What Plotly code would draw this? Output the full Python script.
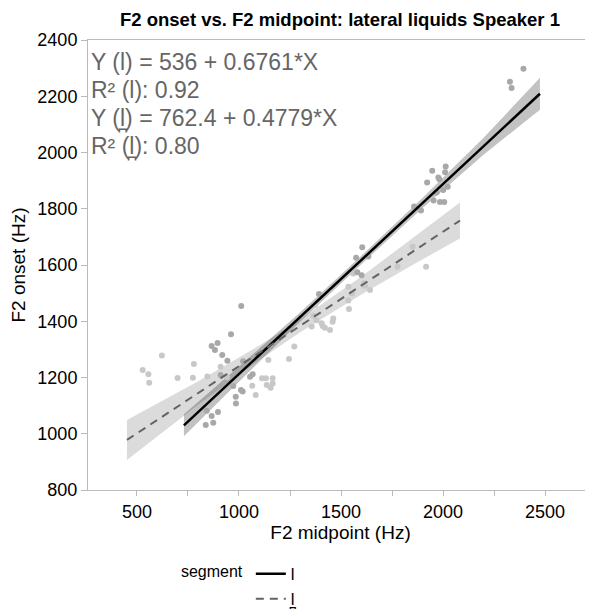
import plotly.graph_objects as go

# F2 midpoint (x) / F2 onset (y) for each segment
l_x = [1011, 961, 866, 895, 882, 918, 943, 910, 926, 972, 1020, 1010, 1018, 984, 985,
       1067, 1054, 842, 866, 897, 837, 874, 1392, 1604, 1574, 1634, 1601, 1580,
       1947, 2013, 2010, 1922, 1982, 1969, 2001, 2023, 1954, 1985, 2006, 1858, 1892,
       1977, 2394, 2328, 2336]
l_y = [1454, 1354, 1312, 1323, 1298, 1280, 1260, 1209, 1179, 1170, 1258, 1156, 1150, 1132, 1108,
       1212, 1203, 1082, 1063, 1077, 1031, 1039, 1497, 1663, 1626, 1630, 1564, 1574,
       1935, 1950, 1930, 1893, 1905, 1858, 1867, 1878, 1829, 1824, 1824, 1808, 1794,
       1911, 2298, 2252, 2229]

ld_x = [528, 556, 560, 622, 699, 779, 774, 845, 910, 941, 1113, 1132, 1165, 1136, 1155,
        1165, 1144, 1065, 1082, 1271, 1245, 1373, 1364, 1380, 1356, 1405, 1410, 1421,
        1462, 1459, 1446, 1536, 1539, 1554, 1536, 1613, 1618, 1642, 1777, 1917, 1851, 1560]
ld_y = [1227, 1212, 1181, 1278, 1198, 1248, 1199, 1204, 1238, 1201, 1197, 1197, 1197, 1173, 1164,
        1179, 1262, 1171, 1138, 1310, 1266, 1458, 1420, 1404, 1381, 1393, 1383, 1377,
        1410, 1398, 1369, 1474, 1444, 1499, 1523, 1535, 1526, 1511, 1594, 1594, 1665, 1570]

# fitted lines (ends) and confidence bands
l_fit_x = [730, 2475]
l_fit_y = [1030, 2209]
l_band_x = [730, 1000, 1300, 1600, 1900, 2200, 2475]
l_band_lo = [991, 1185, 1398, 1603, 1803, 1993, 2152]
l_band_hi = [1069, 1239, 1432, 1633, 1839, 2053, 2266]

ld_fit_x = [451, 2083]
ld_fit_y = [978, 1758]
ld_band_x = [451, 800, 1100, 1300, 1600, 1850, 2083]
ld_band_lo = [907, 1103, 1262, 1361, 1495, 1600, 1694]
ld_band_hi = [1049, 1187, 1314, 1407, 1559, 1694, 1822]

stats = ["Y (l) = 536 + 0.6761*X", "R² (l): 0.92",
         "Y (l̪) = 762.4 + 0.4779*X", "R² (l̪): 0.80"]

fig = go.Figure()

# bands
fig.add_trace(go.Scatter(x=ld_band_x + ld_band_x[::-1], y=ld_band_hi + ld_band_lo[::-1],
                         fill='toself', fillcolor='rgba(0,0,0,0.14)', line={'width': 0},
                         mode='lines', showlegend=False, hoverinfo='skip'))
fig.add_trace(go.Scatter(x=l_band_x + l_band_x[::-1], y=l_band_hi + l_band_lo[::-1],
                         fill='toself', fillcolor='rgba(0,0,0,0.24)', line={'width': 0},
                         mode='lines', showlegend=False, hoverinfo='skip'))

# points
fig.add_trace(go.Scatter(x=ld_x, y=ld_y, mode='markers', showlegend=False,
                         marker={'color': '#c8c8c8', 'size': 6}))
fig.add_trace(go.Scatter(x=l_x, y=l_y, mode='markers', showlegend=False,
                         marker={'color': '#a8a8a8', 'size': 6}))

# lines
fig.add_trace(go.Scatter(x=l_fit_x, y=l_fit_y, mode='lines', name='l',
                         line={'color': 'black', 'width': 2.5}))
fig.add_trace(go.Scatter(x=ld_fit_x, y=ld_fit_y, mode='lines', name='l̪',
                         line={'color': '#636363', 'width': 2, 'dash': '8px,6px'}))

for i, s in enumerate(stats):
    fig.add_annotation(text=s, xref='paper', yref='paper', x=0, y=1, xanchor='left',
                       yanchor='middle', yshift=-21.5 - 28.5 * i, xshift=1, showarrow=False,
                       font={'size': 23, 'color': '#666666'})

axis = dict(showline=True, linecolor='#bbbbbb', mirror=True, ticks='outside',
            tickcolor='#bbbbbb', showgrid=False, zeroline=False,
            automargin=False, tickfont={'size': 18, 'color': 'black'})

fig.update_xaxes(range=[260, 2735], dtick=500, tick0=0, ticklen=5,
                 minor={'dtick': 250, 'ticks': 'outside', 'ticklen': 5, 'tickcolor': '#bbbbbb'},
                 title={'text': 'F2 midpoint (Hz)', 'font': {'size': 19}, 'standoff': 5}, **axis)
fig.update_yaxes(range=[800, 2400], dtick=200, ticklen=6,
                 title={'text': 'F2 onset (Hz)', 'font': {'size': 19}, 'standoff': 9}, **axis)

# page body adds an 8px offset; margins are set to compensate
fig.update_layout(
    width=585, height=615,
    margin={'l': 80, 'r': 0, 't': 32, 'b': 133},
    paper_bgcolor='white', plot_bgcolor='white',
    font={'family': 'Liberation Sans, Arial, sans-serif', 'color': 'black'},
    title={'text': '<b>F2 onset vs. F2 midpoint: lateral liquids Speaker 1</b>',
           'x': 0.5675, 'xanchor': 'center', 'y': 0.982, 'yanchor': 'middle',
           'font': {'size': 18.5}},
    legend={'title': {'text': 'segment', 'side': 'left', 'font': {'size': 16}},
            'x': 0.18, 'xanchor': 'left', 'y': -0.147, 'yanchor': 'top',
            'font': {'size': 17}, 'itemwidth': 30, 'tracegroupgap': 0},
)

fig.write_html("out.html")
